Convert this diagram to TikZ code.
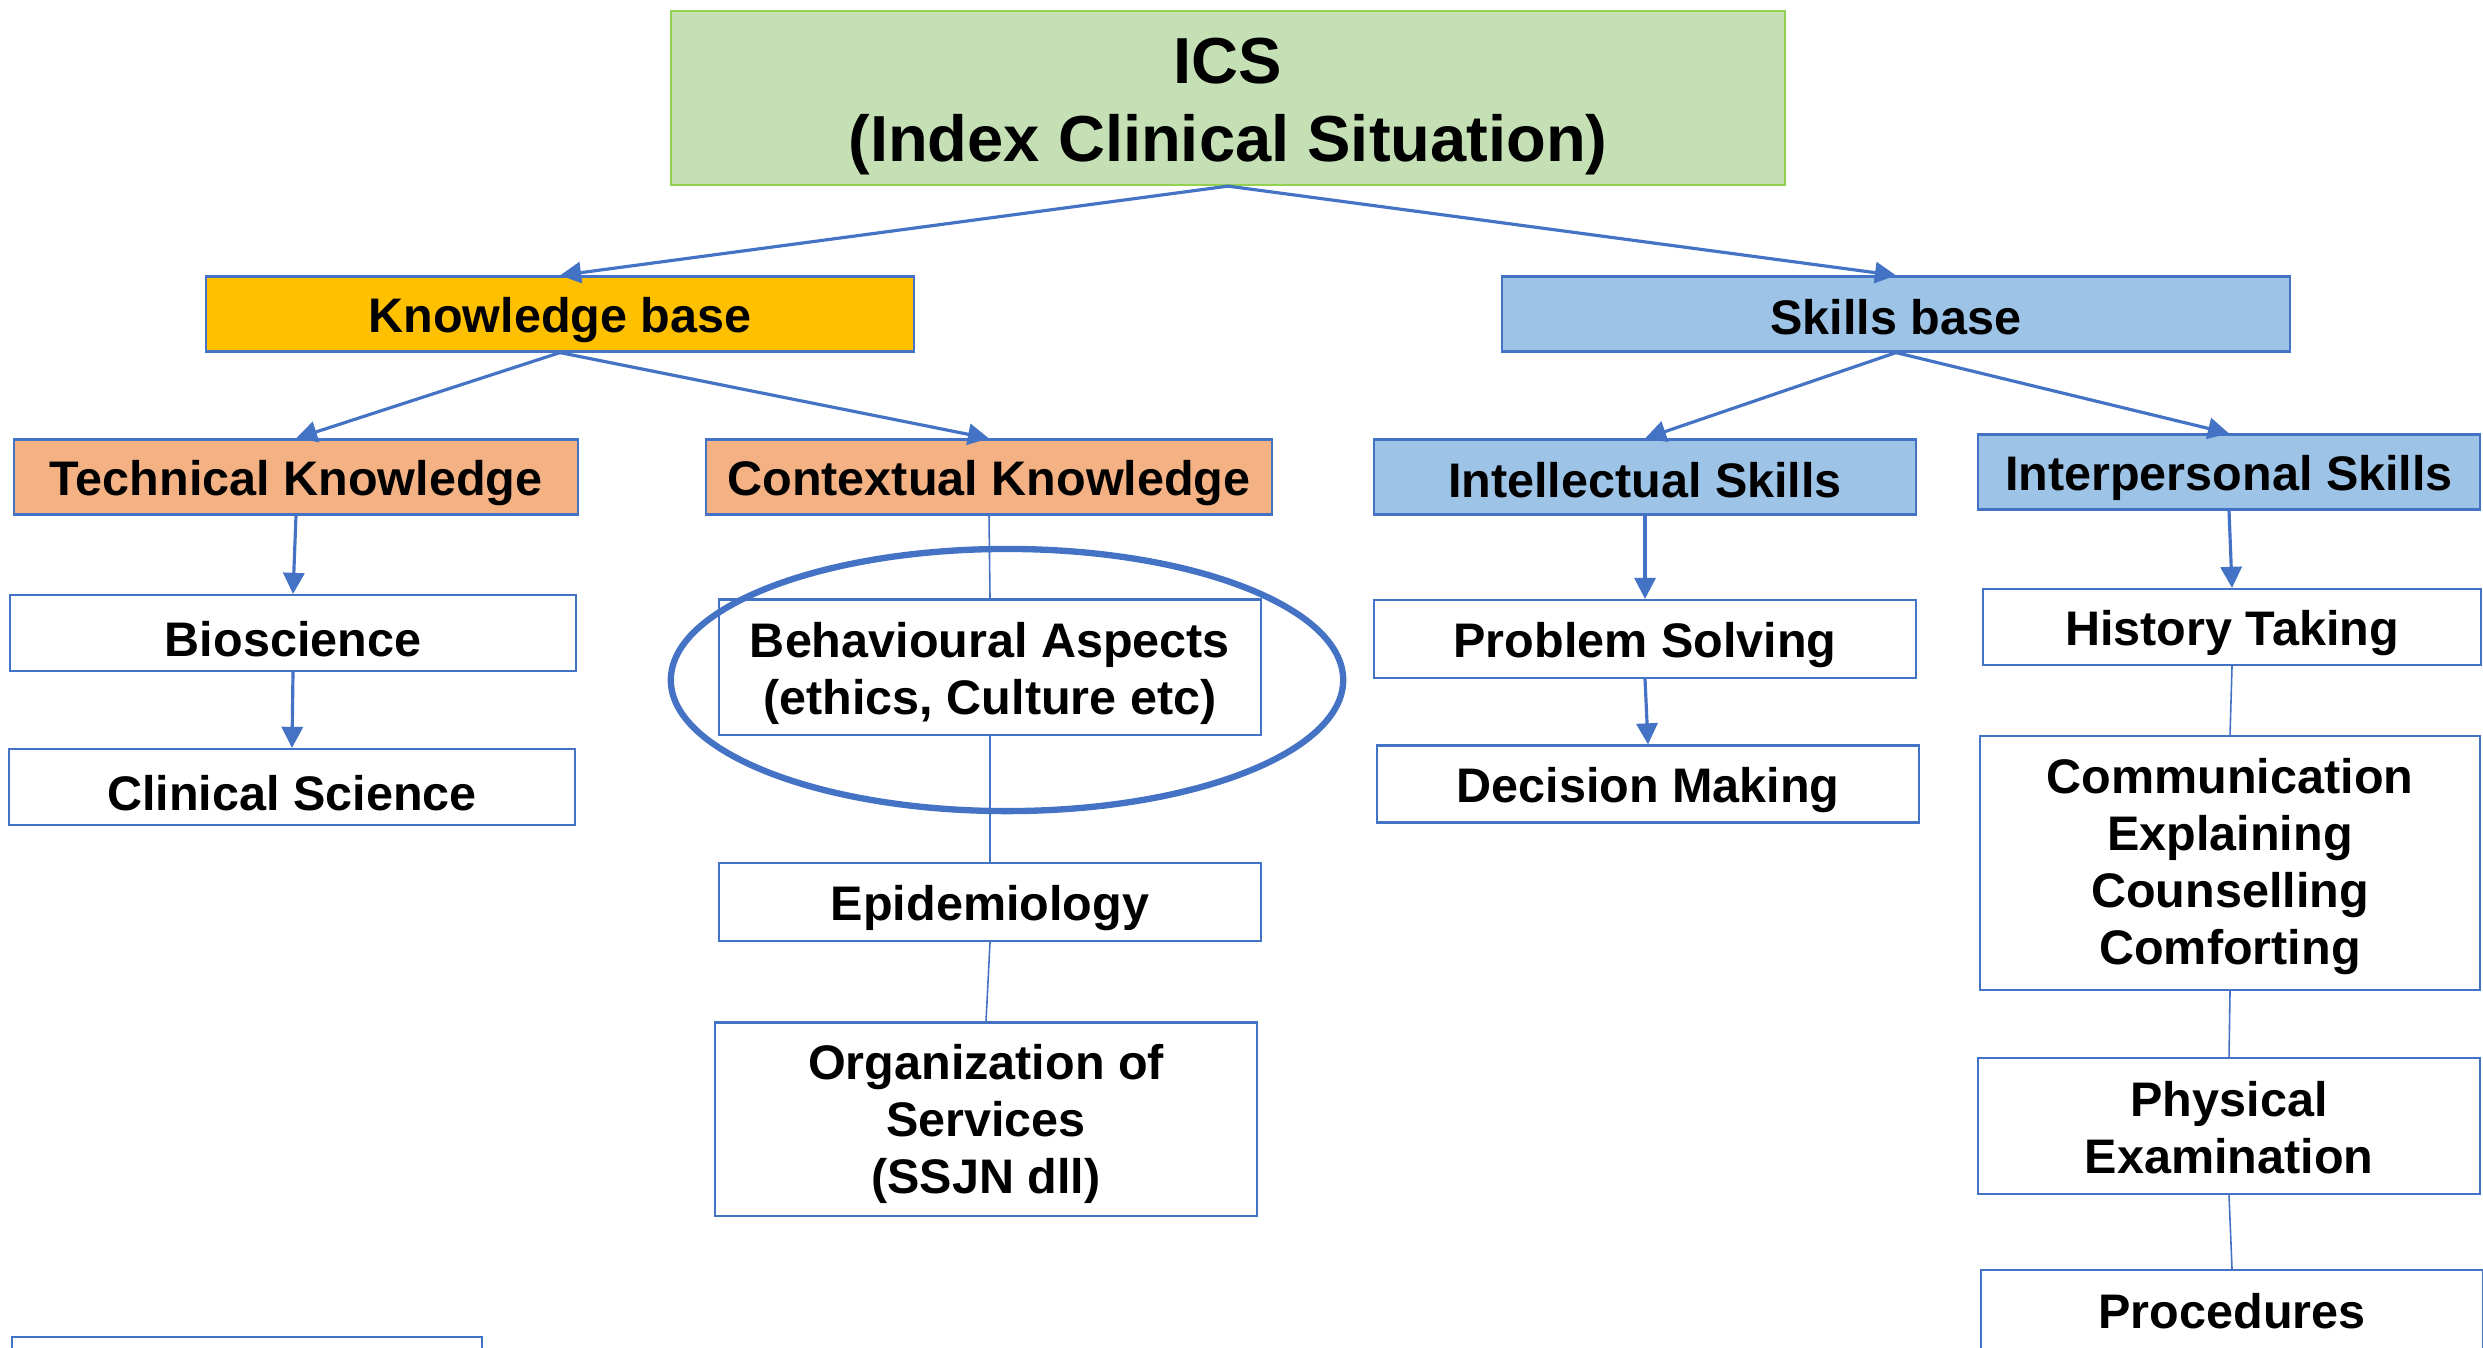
\documentclass[tikz,border=0pt]{standalone}
\usepackage{fontspec}
\setmainfont{Liberation Sans}
\usetikzlibrary{arrows.meta}
\usetikzlibrary{positioning}
\definecolor{mblue}{HTML}{4472C4}
\definecolor{mgreen}{HTML}{C5E0B4}
\definecolor{mgreenline}{HTML}{92D050}
\definecolor{morange}{HTML}{FFC000}
\definecolor{mpeach}{HTML}{F4B183}
\definecolor{mlight}{HTML}{9DC3E6}
\newcommand\lift[1]{\rule{0pt}{#1}}
\tikzset{boxlift/.store in = \boxlift, boxlift = 13.6pt,
         box/.style = {draw=mblue, line width=0.6pt, inner sep=0pt, align=center,
                       font=\fontsize{13.8}{16.2}\selectfont\bfseries,
                       execute at begin node={\lift{\boxlift}}},
         arr/.style = {mblue, line width=0.9pt, -{Triangle[length=6pt,width=6pt]}},
         link/.style = {mblue, line width=0.45pt}}

\begin{document}
\begin{tikzpicture}[x=0.01cm, y=-0.01cm]
      \clip (0, 0) rectangle (2483, 1347);
      \fill [white] (0, 0) rectangle (2483, 1347);

      \node [box, fill=mgreen, draw=mgreenline, minimum width=11.14cm, minimum height=1.74cm,
             font=\fontsize{18.5}{22.4}\selectfont\bfseries] (ics) at (1228, 98) {\lift{17.7pt}ICS\\(Index Clinical Situation)};

      \node [box, fill=morange, minimum width=7.07cm, minimum height=0.75cm] (kb) at (560, 314) {Knowledge base};
      \node [box, boxlift=11.8pt, fill=mlight, minimum width=7.87cm, minimum height=0.75cm] (sb) at (1896, 314) {Skills base};

      \node [box, fill=mpeach, minimum width=5.64cm, minimum height=0.75cm] (tk) at (296, 477) {Technical Knowledge};
      \node [box, fill=mpeach, minimum width=5.66cm, minimum height=0.75cm] (ck) at (989, 477) {Contextual Knowledge};
      \node [box, boxlift=11.8pt, fill=mlight, minimum width=5.41cm, minimum height=0.75cm] (is) at (1645, 477) {Intellectual Skills};
      \node [box, fill=mlight, minimum width=5.01cm, minimum height=0.75cm] (ips) at (2229, 472) {Interpersonal Skills};

      % knowledge side
      \node [box, minimum width=5.65cm, minimum height=0.76cm] (bio) at (293, 633) {Bioscience};
      \node [box, minimum width=5.65cm, minimum height=0.76cm] (cs) at (292, 787) {Clinical Science};
      \node [box, minimum width=4.69cm, minimum height=0.66cm] (more) at (247, 1370) {};

      \node [box, minimum width=5.42cm, minimum height=1.35cm] (beh) at (990, 667) {\lift{13.6pt}Behavioural Aspects\\(ethics, Culture etc)};
      \node [box, minimum width=5.42cm, minimum height=0.78cm] (epi) at (990, 902) {Epidemiology};
      \node [box, minimum width=5.41cm, minimum height=1.93cm] (org) at (986, 1119) {\lift{12.7pt}Organization of\\Services\\(SSJN dll)};

      % skills side
      \node [box, minimum width=5.41cm, minimum height=0.78cm] (ps) at (1645, 639) {Problem Solving};
      \node [box, minimum width=5.41cm, minimum height=0.77cm] (dm) at (1648, 784) {Decision Making};

      \node [box, minimum width=4.98cm, minimum height=0.76cm] (ht) at (2232, 627) {History Taking};
      \node [box, minimum width=4.99cm, minimum height=2.54cm] (comm) at (2230, 863) {\lift{11.8pt}Communication\\Explaining\\Counselling\\Comforting};
      \node [box, minimum width=5.02cm, minimum height=1.36cm] (pe) at (2229, 1126) {\lift{10.9pt}Physical\\Examination};
      \node [box, boxlift=10pt, minimum width=5.02cm, minimum height=0.82cm] (proc) at (2232, 1311) {Procedures};

      \draw [arr] (ics.south) -- (kb.north);
      \draw [arr] (ics.south) -- (sb.north);
      \draw [arr] (kb.south) -- (tk.north);
      \draw [arr] (kb.south) -- (ck.north);
      \draw [arr] (sb.south) -- (is.north);
      \draw [arr] (sb.south) -- (ips.north);

      \draw [arr] (tk.south) -- (bio.north);
      \draw [arr] (bio.south) -- (cs.north);
      \draw [arr] (is.south) -- (ps.north);
      \draw [arr] (ps.south) -- (dm.north);
      \draw [arr] (ips.south) -- (ht.north);

      \draw [link] (ck.south) -- (beh.north);
      \draw [link] (beh.south) -- (epi.north);
      \draw [link] (epi.south) -- (org.north);
      \draw [link] (ht.south) -- (comm.north);
      \draw [link] (comm.south) -- (pe.north);
      \draw [link] (pe.south) -- (proc.north);

      \draw [mblue, line width=1.8pt] (1007, 680) ellipse [x radius=3.36cm, y radius=1.31cm];
\end{tikzpicture}
\end{document}
